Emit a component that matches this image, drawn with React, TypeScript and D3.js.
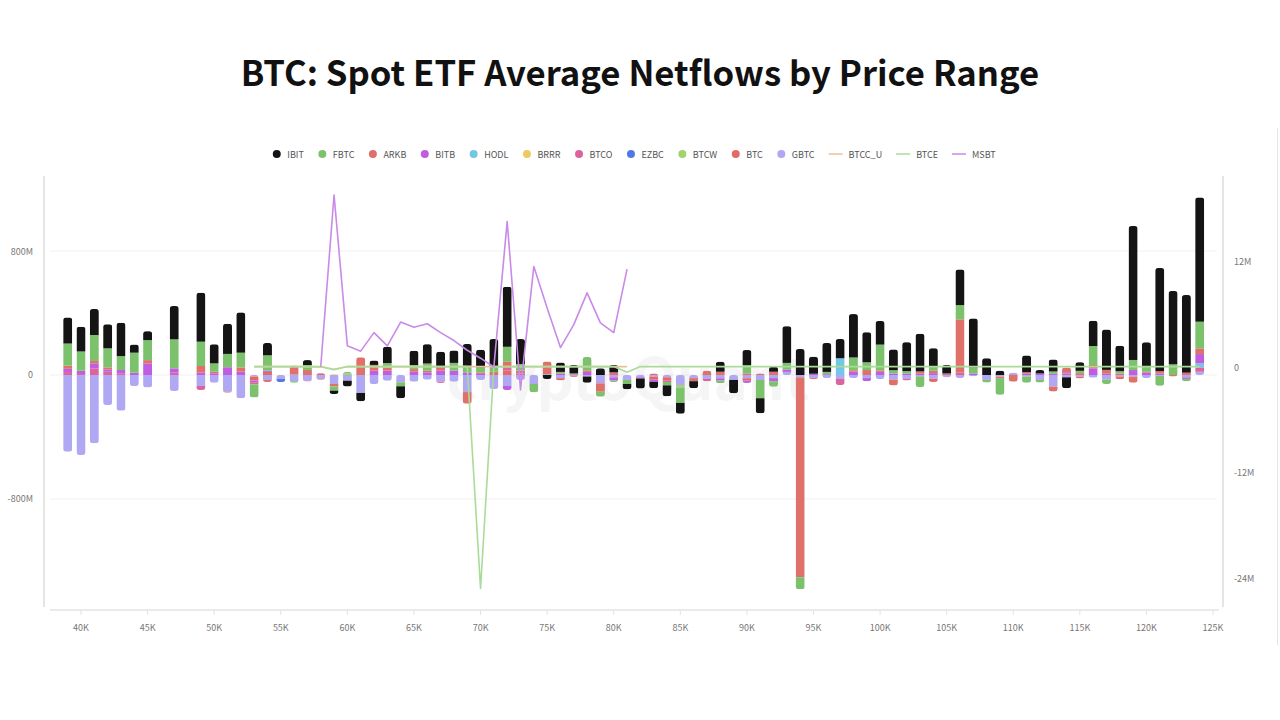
import React, { useMemo } from "react";
import * as d3 from "d3";

// Price bins (in $K) that hold ETF flow data
const bins = [39, 40, 41, 42, 43, 44, 45, 47, 49, 50, 51, 52,
  53, 54, 55, 56, 57, 58, 59, 60, 61, 62,
  63, 64, 65, 66, 67, 68, 69, 70, 71, 72,
  73, 74, 75, 76, 77, 78, 79, 80, 81, 82,
  83, 84, 85, 86, 87, 88, 89, 90, 91, 92,
  93, 94, 95, 96, 97, 98, 99, 100, 101, 102,
  103, 104, 105, 106, 107, 108, 109, 110, 111, 112,
  113, 114, 115, 116, 117, 118, 119, 120, 121, 122, 123, 124];

// Average netflows per bin, in millions of USD
const IBIT = [168, 159, 168, 155, 215, 52, 58, 215, 316, 123, 194, 260,
  0, 80, 0, 0, 32, 0, -22, -37, -54, 28,
  105, -77, 92, 125, 101, 80, 140, 114, 179, 387,
  161, 0, -26, 60, 55, -40, 43, 47, -34, -64,
  -40, -70, -70, -45, 0, 65, -86, 97, -97, 32,
  237, 168, 110, 187, 125, 280, 194, 153, 134, 187,
  243, 120, 54, 230, 316, 108, 28, 0, 108, 22,
  77, -70, 56, 163, 260, 163, 865, 159, 666, 473, 501, 802];
const FBTC = [142, 125, 168, 123, 90, 129, 129, 187, 157, 54, 86, 95,
  -85, 99, 0, -10, 32, 0, -28, 10, 0, 0,
  28, -26, 26, 47, 0, 50, 43, 32, 32, 97,
  43, -54, 0, 10, 5, 86, -32, -10, -26, 0,
  0, -22, -100, 0, 0, -17, 0, 54, -118, -36,
  43, -77, 0, 15, 0, 82, 50, 166, 21, 17,
  -70, 26, 0, 92, 39, -17, -108, 0, -40, -17,
  15, 0, 15, 123, -28, 15, 65, 32, -65, 69, -15, 172];
const ARKB = [21, 0, 15, 13, 0, 0, 21, 0, 43, 10, 0, 28,
  -10, -13, 0, 58, 32, -5, -15, 0, 114, 37,
  21, 0, 17, 10, 21, 0, -75, 10, 21, 40,
  18, 0, 82, -15, 5, 10, -54, 17, 0, 0,
  10, 0, 0, -20, 28, 21, 0, 10, 10, 21,
  0, -1290, -8, 0, 0, 10, 32, 10, -37, 0,
  15, 15, 10, 344, 0, 0, -10, -43, 10, 0,
  -32, 30, 12, 21, 25, 10, -40, 5, 15, -10, 15, 37];
const BITB = [21, 21, 32, 15, 21, 15, 75, 28, 15, 11, 50, 21,
  -15, 8, 0, 0, 0, 0, 0, 0, 0, 28,
  28, 0, 21, 17, 28, 28, 17, 7, 0, -26,
  0, 0, 0, 10, 0, 20, 0, -21, 0, -8,
  -15, 0, 0, 0, 0, -15, 0, -15, 0, -20,
  15, 0, 8, 5, 0, 21, -20, 20, 10, 8,
  8, 12, 0, 0, 10, 0, 0, 0, 8, 10,
  8, 8, 0, 43, 8, 0, 32, 15, 10, 0, -10, 60];
const HODL = [0, 0, 0, 0, 0, 0, 0, 0, 0, 0, 0, 0,
  0, 0, 0, 3, 0, 0, 0, 0, 0, 0,
  0, 0, 0, 0, 0, 0, 0, 0, 0, 0,
  0, 0, 5, 0, 0, 0, 0, 0, 0, 0,
  0, 0, 0, 0, 0, 0, 0, 0, 0, 0,
  0, 0, 0, 0, 108, 0, 0, 0, 0, 0,
  0, 0, 0, 0, 0, 0, 0, 0, 0, 0,
  0, 0, 0, 0, 0, 0, 0, 0, 0, 0, 0, 26];
const BRRR = [0, 0, 0, 0, 0, 0, 0, 0, 0, 0, 0, 0,
  0, 0, 0, 0, 0, 0, 5, 0, 0, 0,
  0, 0, 0, 0, 0, 0, 0, 0, 0, 0,
  0, 0, 0, 0, 0, 0, 0, 0, 0, 0,
  0, 0, 0, 0, 0, 0, 0, 0, 0, 0,
  0, 0, 0, 0, 0, 0, 0, 0, 0, 0,
  0, 0, 0, 0, 0, 0, 0, 0, 0, 0,
  0, 0, 0, 0, 0, 0, 0, 0, 0, 0, 0, 0];
const BTCO = [19, 6, 43, 21, 11, 0, 0, 15, -26, 0, 0, 0,
  0, 0, 0, 0, -5, 0, 0, 0, 0, 0,
  0, 0, 0, 0, -8, 0, 0, 0, 0, 15,
  10, 0, 0, 0, 0, 0, 0, 0, 0, 0,
  0, -10, 0, 0, -15, 0, 0, 0, 0, 0,
  0, 0, 0, 0, -39, 0, 0, 0, 0, -10,
  0, 0, 0, 15, 0, 0, 0, 0, 0, 0,
  0, 10, 0, 0, 0, 0, 0, 0, 0, 0, 0, 28];
const EZBC = [0, 0, 0, 0, 0, 0, 0, 0, 0, 0, 0, 0,
  0, 0, -20, 0, 0, 0, 0, 0, 0, 0,
  0, 0, 0, 0, 0, 0, 0, 0, 0, 0,
  0, 0, 0, 0, 0, 0, 0, 0, 0, 0,
  0, 0, 0, 0, 0, 0, 0, 0, 0, 0,
  0, 0, 0, 0, 0, 0, 0, 0, 0, 0,
  0, 0, 0, 0, 0, 0, 0, 0, 0, 0,
  0, 0, 0, 0, 0, 0, 0, 0, 0, 0, 0, 0];
const BTCW = [0, 0, 0, 0, 0, 0, 0, 0, 0, 0, 0, 0,
  0, 0, 0, 0, 0, 0, 0, 10, 0, 0,
  0, 0, 0, 0, 0, 0, 0, 0, 0, 0,
  0, 0, 0, 0, 0, 0, 0, 0, 0, 0,
  0, 0, -15, 0, 0, 0, 0, 0, 0, 0,
  0, 0, 0, 0, 0, 0, 0, 0, 0, 0,
  0, 0, 0, 0, 0, 0, 0, 0, 0, 0,
  0, 0, 0, 0, 0, 0, 0, 0, 0, 0, 0, 0];
const BTC = [0, 0, 0, 0, 0, 0, 0, 0, 0, 0, -6, 0,
  -25, 20, 0, 0, 0, 12, 0, 0, 0, 0,
  0, 0, 0, 0, 0, 0, 0, 0, 0, 30,
  0, 0, 0, 0, -5, 0, 0, 0, 0, 0,
  -20, -20, 0, 0, 0, 0, 0, -15, 0, 0,
  0, 0, 0, 0, 0, 0, 0, 0, 0, 0,
  0, -20, 0, 0, 0, 0, 0, 0, 0, 0,
  0, 0, -10, 0, 0, -18, 0, 0, 0, 0, 0, 0];
const GBTC = [-495, -516, -441, -194, -230, -71, -80, -103, -71, -50, -108, -150,
  -10, -32, -26, -40, -37, -26, -58, -37, -116, -58,
  -37, -47, -43, -30, -43, -43, -110, -32, -90, -71,
  -32, -58, 0, -20, -8, -10, -54, -15, -32, -15,
  -10, -15, -65, -20, -25, -21, -32, -21, -32, -20,
  20, -15, -20, -20, -26, -20, -20, -26, -30, -25,
  -8, -25, -15, -20, -8, -32, -10, 15, -10, -32,
  -75, -15, -12, -17, -30, -10, -10, -20, -5, 0, -15, 21];

// Small funds drawn as lines on the right axis, in millions of USD
const lineBins = [53, 54, 55, 56, 57, 58, 59, 60, 61, 62,
  63, 64, 65, 66, 67, 68, 69, 70, 71, 72,
  73, 74, 75, 76, 77, 78, 79, 80, 81, 82,
  83, 84, 85, 86, 87, 88, 89, 90, 91, 92,
  93, 94, 95, 96, 97, 98, 99, 100, 101, 102,
  103, 104, 105, 106, 107, 108, 109, 110, 111, 112,
  113, 114, 115, 116, 117, 118, 119, 120, 121, 122, 123, 124];
const BTCC_U = [0.05, 0.05, 0.05, 0.05, 0.05, 0.05, -0.25, 0.05, 0.05, 0.05,
  0.05, 0.05, 0.05, 0.05, 0.05, 0.05, 0.05, 0.05, 0.05, 0.05,
  0.05, 0.05, 0.05, 0.05, 0.05, 0.05, 0.05, 0.05, 0.05, null,
  null, null, null, null, null, null, null, null, null, null,
  null, null, null, null, null, null, null, null, null, null,
  null, null, null, null, null, null, null, null, null, null,
  null, null, null, null, null, null, null, null, null, null, null, null];
const BTCE = [0.05, 0.05, 0.05, 0.05, 0.05, 0.02, -0.3, 0.05, 0.05, 0.05,
  0.05, 0.05, 0.05, 0.05, 0.05, 0.05, 0.05, -25.1, 0.05, 0.05,
  0.05, 0.05, 0.05, 0.05, 0.05, 0.05, 0.05, 0.05, -0.6, 0.05,
  0.05, 0.05, 0.05, 0.05, 0.05, 0.05, 0.05, 0.05, 0.05, 0.05,
  0.05, 0.05, 0.05, 0.05, 0.05, 0.05, 0.05, 0.05, 0.05, 0.05,
  0.05, 0.05, 0.05, 0.05, 0.05, 0.05, 0.05, 0.05, 0.05, 0.05,
  0.05, 0.05, 0.05, 0.05, 0.05, 0.05, 0.05, 0.05, 0.05, 0.05, 0.05, 0.05];
const MSBT = [null, null, null, null, null, 0.05, 19.5, 2.4, 1.8, 3.9,
  2.4, 5.1, 4.5, 4.9, 3.9, 3.0, 1.9, 1.0, 0.0, 16.5,
  -2.6, 11.4, 6.7, 2.2, 4.8, 8.4, 5.0, 3.9, 11.1, null,
  null, null, null, null, null, null, null, null, null, null,
  null, null, null, null, null, null, null, null, null, null,
  null, null, null, null, null, null, null, null, null, null,
  null, null, null, null, null, null, null, null, null, null, null, null];

const xTicks = [40, 45, 50, 55, 60, 65, 70, 75, 80, 85, 90, 95, 100, 105, 110, 115, 120, 125];
const leftTicks = [-800, 0, 800];
const rightTicks = [-24, -12, 0, 12];

const barKeys = ["IBIT", "FBTC", "ARKB", "BITB", "HODL", "BRRR", "BTCO", "EZBC", "BTCW", "BTC", "GBTC"];
const barValues: Record<string, number[]> = { IBIT, FBTC, ARKB, BITB, HODL, BRRR, BTCO, EZBC, BTCW, BTC, GBTC };
const lineKeys = ["BTCC_U", "BTCE", "MSBT"];
const lineValues: Record<string, (number | null)[]> = { BTCC_U, BTCE, MSBT };

const colors: Record<string, string> = {
  IBIT: "#141414",
  FBTC: "#7cc26d",
  ARKB: "#e0706a",
  BITB: "#bf5ee0",
  HODL: "#72c6e6",
  BRRR: "#f0c95e",
  BTCO: "#dc649e",
  EZBC: "#4f79e3",
  BTCW: "#a3d36a",
  BTC: "#e26a66",
  GBTC: "#b0a8f2",
  BTCC_U: "#e8c29b",
  BTCE: "#a8dc98",
  MSBT: "#c98ae8",
};

const FONT = "'Noto Sans CJK SC', 'Noto Sans', sans-serif";

function measure(text: string, font: string): number {
  const ctx = document.createElement("canvas").getContext("2d");
  if (!ctx) return text.length * 5;
  ctx.font = font;
  return ctx.measureText(text).width;
}

export default function App() {
  const W = 1280;
  const H = 720;
  const plotTop = 176;
  const plotBottom = 607;
  const plotLeft = 44;
  const plotRight = 1223;

  const x = d3.scaleLinear().domain([37.22, 125.75]).range([plotLeft, plotRight]);
  const yL = d3.scaleLinear().domain([-1497, 1284]).range([plotBottom, plotTop]);
  const yR = d3.scaleLinear().domain([-27.2, 21.65]).range([plotBottom, plotTop]);

  const rows = useMemo(
    () =>
      bins.map((b, i) => {
        const r: Record<string, number> = { bin: b };
        barKeys.forEach((k) => (r[k] = barValues[k][i]));
        return r;
      }),
    []
  );

  // GBTC sits next to the zero line, IBIT furthest out
  const stackKeys = [...barKeys].reverse();
  const series = d3.stack<Record<string, number>>().keys(stackKeys).offset(d3.stackOffsetDiverging)(rows);

  const barW = 9;

  const legendFont = `9px ${FONT}`;
  const legendItems = useMemo(() => {
    const items = [...barKeys, ...lineKeys].map((k) => ({
      key: k,
      isLine: lineKeys.includes(k),
      tw: measure(k, legendFont),
    }));
    const widths = items.map((it) => (it.isLine ? 14 : 9) + 6 + it.tw);
    const gap = 14;
    const total = d3.sum(widths) + gap * (items.length - 1);
    let cx = 634 - total / 2;
    return items.map((it, i) => {
      const out = { ...it, x0: cx };
      cx += widths[i] + gap;
      return out;
    });
  }, []);

  const lineGen = (vals: (number | null)[]) =>
    d3
      .line<number | null>()
      .defined((v) => v !== null)
      .x((_, i) => x(lineBins[i]))
      .y((v) => yR(v as number))(vals) || "";

  const fmtL = (v: number) => (v === 0 ? "0" : `${v}M`);
  const fmtR = (v: number) => (v === 0 ? "0" : `${v}M`);

  return (
    <svg
      width={W}
      height={H}
      style={{ position: "fixed", left: 0, top: 0, background: "#fff" }}
      fontFamily={FONT}
    >
      <rect width={W} height={H} fill="#fff" />
      <text x={640} y={86} textAnchor="middle" fontSize={34.7} fontWeight={700} fill="#111">
        BTC: Spot ETF Average Netflows by Price Range
      </text>

      <line x1={1277.5} x2={1277.5} y1={128} y2={645} stroke="#e6e6e6" />

      {/* legend */}
      <g fontSize={9} fill="#555">
        {legendItems.map((it) => (
          <g key={it.key}>
            {it.isLine ? (
              <line x1={it.x0} x2={it.x0 + 14} y1={154} y2={154} stroke={colors[it.key]} strokeWidth={1.5} />
            ) : (
              <circle cx={it.x0 + 4.5} cy={154} r={4} fill={colors[it.key]} />
            )}
            <text x={it.x0 + (it.isLine ? 14 : 9) + 6} y={154} dominantBaseline="central">
              {it.key}
            </text>
          </g>
        ))}
      </g>

      {/* grid */}
      {leftTicks.map((t) => (
        <line key={t} x1={plotLeft + 6} x2={plotRight - 6} y1={yL(t)} y2={yL(t)} stroke="#f1f1f1" />
      ))}

      {/* axes */}
      <line x1={plotLeft} x2={plotLeft} y1={plotTop} y2={plotBottom} stroke="#dcdcdc" strokeWidth={1.5} />
      <line x1={plotRight} x2={plotRight} y1={plotTop} y2={plotBottom} stroke="#dcdcdc" strokeWidth={1.5} />
      <line x1={plotLeft + 6} x2={plotRight - 4} y1={610} y2={610} stroke="#e3e3e3" strokeWidth={1.5} />
      <g fontSize={9} fill="#777">
        {xTicks.map((t) => (
          <g key={t}>
            <line x1={x(t)} x2={x(t)} y1={610} y2={615} stroke="#e3e3e3" />
            <text x={x(t)} y={627} textAnchor="middle" dominantBaseline="central">
              {`${t}K`}
            </text>
          </g>
        ))}
        {leftTicks.map((t) => (
          <text key={t} x={33} y={yL(t)} textAnchor="end" dominantBaseline="central">
            {fmtL(t)}
          </text>
        ))}
        {rightTicks.map((t) => (
          <text key={t} x={1234} y={yR(t)} textAnchor="start" dominantBaseline="central">
            {fmtR(t)}
          </text>
        ))}
      </g>

      {/* watermark */}
      <text x={628} y={400} textAnchor="middle" fontSize={58} fontWeight={700} fill="#000" opacity={0.035}>
        cryptoQuant
      </text>

      {/* stacked bars, each clipped to a rounded column */}
      <defs>
        {rows.map((r, i) => {
          let lo = 0;
          let hi = 0;
          series.forEach((s) => {
            lo = Math.min(lo, s[i][0], s[i][1]);
            hi = Math.max(hi, s[i][0], s[i][1]);
          });
          const y0 = yL(hi);
          const y1 = yL(lo);
          return (
            <clipPath id={`bar-${r.bin}`} key={r.bin}>
              <rect x={x(r.bin) - barW / 2} y={y0} width={barW} height={Math.max(0, y1 - y0)} rx={3} />
            </clipPath>
          );
        })}
      </defs>
      {rows.map((r, i) => (
        <g key={r.bin} clipPath={`url(#bar-${r.bin})`}>
          {series.map((s) => {
            const [a, b] = s[i];
            if (a === b) return null;
            const ya = yL(Math.max(a, b));
            const yb = yL(Math.min(a, b));
            return (
              <rect
                key={s.key}
                x={x(r.bin) - barW / 2}
                y={ya}
                width={barW}
                height={yb - ya}
                fill={colors[s.key]}
              />
            );
          })}
        </g>
      ))}

      {/* line series */}
      {lineKeys.map((k) => (
        <path key={k} d={lineGen(lineValues[k])} fill="none" stroke={colors[k]} strokeWidth={1.6} strokeLinejoin="round" />
      ))}
    </svg>
  );
}
